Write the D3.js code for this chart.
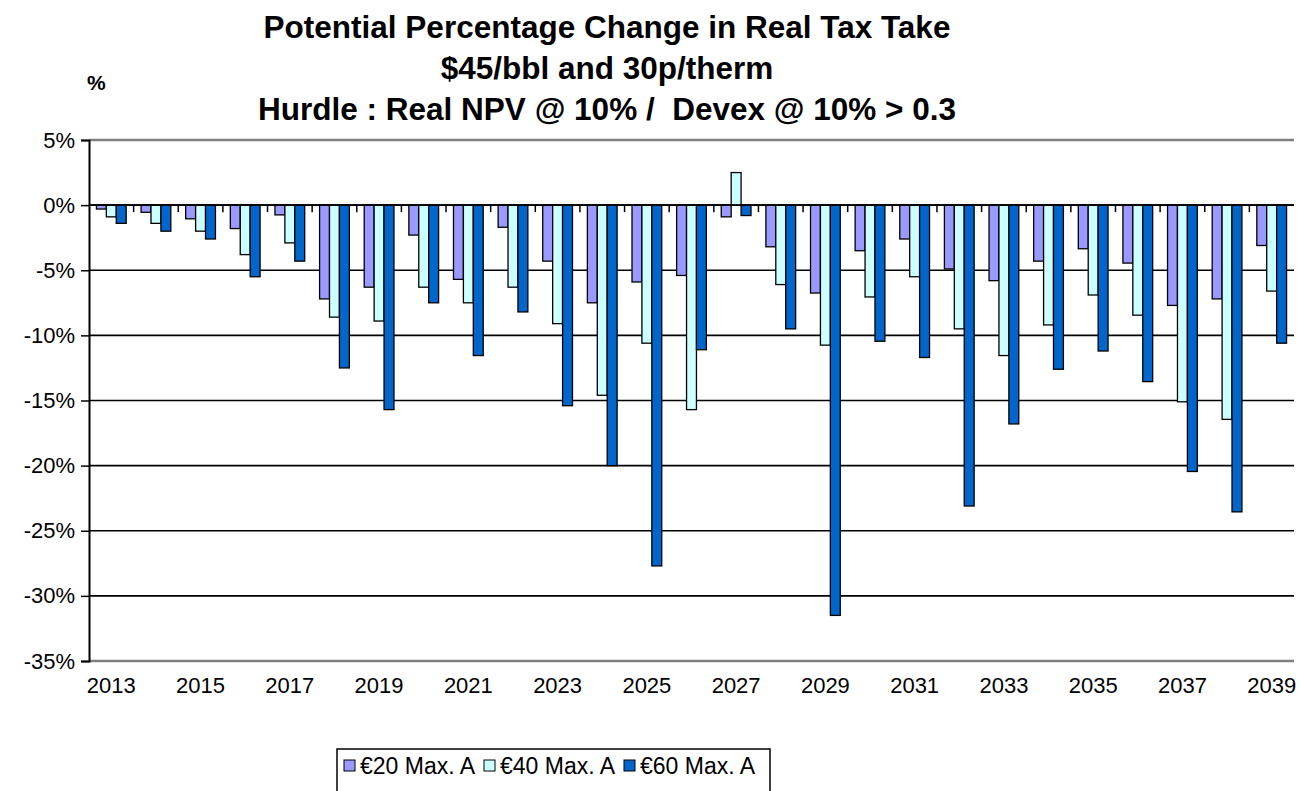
<!DOCTYPE html>
<html lang="en">
<head>
<meta charset="UTF-8">
<title>Potential Percentage Change in Real Tax Take</title>
<script src="https://d3js.org/d3.v7.min.js"></script>
<style>
  body { margin: 0; background: #fff; }
  text { font-family: "Liberation Sans", Arial, sans-serif; fill: #000; }
</style>
</head>
<body>
<div id="chart"></div>
<script>
// categories
var years = ["2013","2014","2015","2016","2017","2018","2019","2020","2021","2022",
             "2023","2024","2025","2026","2027","2028","2029","2030","2031","2032",
             "2033","2034","2035","2036","2037","2038","2039"];
var yearLabels = ["2013","2015","2017","2019","2021","2023","2025","2027","2029",
                  "2031","2033","2035","2037","2039"];

// series values (%)
var eur20 = [-0.3,-0.55,-1.05,-1.8,-0.75,-7.2,-6.3,-2.3,-5.7,-1.7,
             -4.3,-7.5,-5.9,-5.4,-0.9,-3.2,-6.75,-3.5,-2.6,-4.9,
             -5.8,-4.3,-3.35,-4.45,-7.7,-7.2,-3.1];
var eur40 = [-0.9,-1.4,-2.0,-3.8,-2.9,-8.6,-8.9,-6.3,-7.5,-6.3,
             -9.1,-14.6,-10.6,-15.7,2.5,-6.1,-10.75,-7.05,-5.5,-9.5,
             -11.55,-9.2,-6.9,-8.45,-15.1,-16.45,-6.6];
var eur60 = [-1.4,-2.0,-2.6,-5.5,-4.3,-12.5,-15.7,-7.5,-11.55,-8.2,
             -15.4,-20.0,-27.7,-11.1,-0.8,-9.5,-31.5,-10.45,-11.7,-23.1,
             -16.8,-12.6,-11.2,-13.55,-20.45,-23.55,-10.6];

var seriesNames = ["€20 Max. A", "€40 Max. A", "€60 Max. A"];
var seriesColors = ["#9999FF", "#CCFFFF", "#0066CC"];
var yTicks = [5, 0, -5, -10, -15, -20, -25, -30, -35];

var width = 1306, height = 791;
var plotLeft = 89, plotRight = 1294, plotTop = 140, plotBottom = 661;

var svg = d3.select("#chart").append("svg")
    .attr("width", width)
    .attr("height", height);

var x0 = d3.scaleBand().domain(years).range([plotLeft, plotRight]).padding(0);
var x1 = d3.scaleBand().domain(d3.range(3)).range([0, x0.bandwidth()])
    .paddingInner(0).paddingOuter(0.75);
var y = d3.scaleLinear().domain([-35, 5]).range([plotBottom, plotTop]);

// gridlines (top and bottom are the grey plot border)
svg.append("g").selectAll("line")
    .data(yTicks)
    .enter().append("line")
    .attr("x1", plotLeft).attr("x2", plotRight)
    .attr("y1", function(d){ return y(d); })
    .attr("y2", function(d){ return y(d); })
    .attr("stroke", function(d){ return (d === 5 || d === -35) ? "#808080" : "#000"; })
    .attr("stroke-width", function(d){ return (d === 5 || d === -35) ? 2.5 : 1.6; });

// bars
var rows = years.map(function(yr, i){ return [eur20[i], eur40[i], eur60[i]]; });
var groups = svg.append("g").selectAll("g")
    .data(rows)
    .enter().append("g")
    .attr("transform", function(d, i){ return "translate(" + x0(years[i]) + ",0)"; });
groups.selectAll("rect")
    .data(function(d){ return d; })
    .enter().append("rect")
    .attr("x", function(d, j){ return x1(j); })
    .attr("width", x1.bandwidth())
    .attr("y", function(d){ return y(Math.max(0, d)); })
    .attr("height", function(d){ return Math.abs(y(d) - y(0)); })
    .attr("fill", function(d, j){ return seriesColors[j]; })
    .attr("stroke", "#000")
    .attr("stroke-width", 1.3);

// x axis line at 0 with category ticks
svg.append("line")
    .attr("x1", plotLeft).attr("x2", plotRight)
    .attr("y1", y(0)).attr("y2", y(0))
    .attr("stroke", "#000").attr("stroke-width", 1.6);
svg.append("g").selectAll("line")
    .data(years.slice(1))
    .enter().append("line")
    .attr("x1", function(d){ return x0(d); })
    .attr("x2", function(d){ return x0(d); })
    .attr("y1", y(0)).attr("y2", y(0) + 7)
    .attr("stroke", "#000").attr("stroke-width", 1.5);

// x labels
svg.append("g").selectAll("text")
    .data(yearLabels)
    .enter().append("text")
    .attr("x", function(d){ return x0(d) + x0.bandwidth() / 2; })
    .attr("y", 693)
    .attr("text-anchor", "middle")
    .style("font-size", "22px")
    .text(function(d){ return d; });

// y axis
var yAxis = d3.axisLeft(y).tickValues(yTicks).tickSize(8).tickPadding(6)
    .tickFormat(function(d){ return d + "%"; });
svg.append("g")
    .attr("transform", "translate(" + plotLeft + ",0)")
    .call(yAxis)
    .call(function(g){
        g.select(".domain").attr("stroke", "#000").attr("stroke-width", 2);
        g.selectAll(".tick line").attr("stroke", "#000").attr("stroke-width", 1.5);
        g.selectAll(".tick text").style("font-size", "22px")
            .style("font-family", "'Liberation Sans', Arial, sans-serif").attr("fill", "#000");
    });

// title
var titleLines = ["Potential Percentage Change in Real Tax Take",
                  "$45/bbl and 30p/therm",
                  "Hurdle : Real NPV @ 10% /  Devex @ 10% > 0.3"];
svg.append("g").selectAll("text")
    .data(titleLines)
    .enter().append("text")
    .attr("x", 607)
    .attr("y", function(d, i){ return 38 + i * 41; })
    .attr("text-anchor", "middle")
    .style("font-size", "31.5px")
    .style("font-weight", "bold")
    .style("white-space", "pre")
    .text(function(d){ return d; });

svg.append("text")
    .attr("x", 87).attr("y", 90)
    .style("font-size", "21px")
    .style("font-weight", "bold")
    .text("%");

// legend
var legend = svg.append("g");
legend.append("rect")
    .attr("x", 337).attr("y", 749)
    .attr("width", 433).attr("height", 60)
    .attr("fill", "#fff").attr("stroke", "#000").attr("stroke-width", 1.5);
var items = legend.selectAll("g.item")
    .data(seriesNames)
    .enter().append("g")
    .attr("class", "item")
    .attr("transform", function(d, i){ return "translate(" + (344 + i * 140) + ",0)"; });
items.append("rect")
    .attr("x", 0).attr("y", 760)
    .attr("width", 11).attr("height", 11)
    .attr("fill", function(d, i){ return seriesColors[i]; })
    .attr("stroke", "#000").attr("stroke-width", 1);
items.append("text")
    .attr("x", 16).attr("y", 774)
    .style("font-size", "23px")
    .text(function(d){ return d; });
</script>
</body>
</html>
